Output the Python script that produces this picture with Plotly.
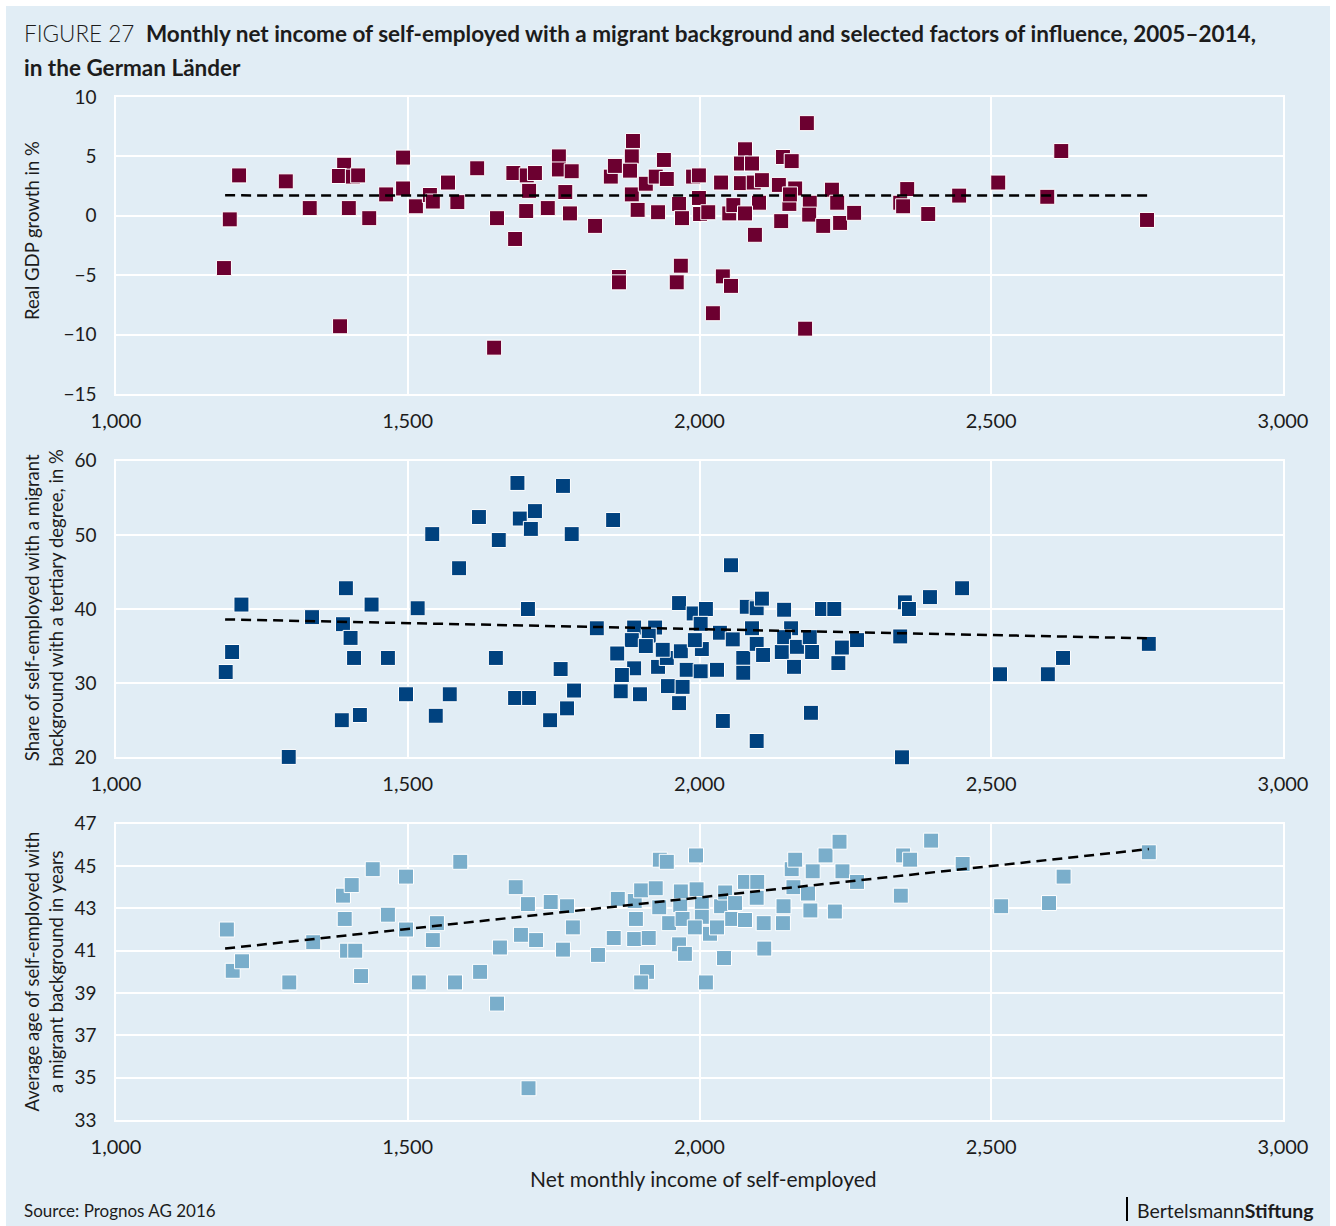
import plotly.graph_objects as go

# ---------------- data ----------------
gdp_x = [1185, 1195, 1211, 1291, 1332, 1391, 1382, 1406, 1415, 1399, 1384, 1434, 1463, 1492, 1492,
         1514, 1538, 1543, 1569, 1585, 1619, 1653, 1648, 1681, 1684, 1704, 1718, 1708, 1703, 1740,
         1759, 1759, 1781, 1770, 1778, 1821, 1848, 1855, 1862, 1862, 1886, 1884, 1881, 1884, 1894,
         1908, 1925, 1939, 1944, 1929, 1965, 1970, 1961, 1968, 1989, 1999, 1999, 2001, 2015, 2023,
         2037, 2040, 2054, 2051, 2058, 2071, 2078, 2071, 2093, 2102, 2078, 2095, 2107, 2143, 2158,
         2136, 2164, 2154, 2140, 2189, 2188, 2184, 2181, 2212, 2227, 2236, 2241, 2265, 2344, 2349,
         2356, 2392, 2445, 2512, 2620, 2596, 2767, 2090, 2155]
gdp_y = [-4.4, -0.3, 3.4, 2.9, 0.65, 4.3, 3.35, 3.3, 3.4, 0.65, -9.3, -0.2, 1.8, 4.9, 2.3,
         0.8, 1.75, 1.2, 2.8, 1.15, 4.0, -0.2, -11.1, 3.6, -1.95, 3.4, 3.6, 2.1, 0.4, 0.65,
         5.0, 3.9, 3.75, 2.0, 0.2, -0.85, 3.3, 4.2, -5.15, -5.6, 6.3, 5.0, 3.8, 1.8, 0.5,
         2.7, 3.3, 4.7, 3.1, 0.3, 1.0, -0.2, -5.6, -4.2, 3.3, 3.4, 1.5, 0.15, 0.3, -8.2,
         2.8, -5.1, -5.9, 0.2, 0.9, 2.75, 5.6, 4.4, 2.8, 1.1, 0.2, -1.6, 3.0, 4.95, 4.6,
         2.6, 2.3, 1.0, -0.45, 1.1, 0.1, 7.8, -9.5, -0.85, 2.2, 1.1, -0.6, 0.25, 1.1, 0.8,
         2.25, 0.15, 1.7, 2.8, 5.45, 1.6, -0.35, 4.4, 1.8]

edu_x = [1188, 1199, 1215, 1296, 1336, 1394, 1389, 1402, 1408, 1387, 1418, 1438, 1466, 1497, 1517,
         1542, 1548, 1572, 1588, 1622, 1656, 1688, 1692, 1718, 1711, 1766, 1781, 1852, 1706, 1651,
         1762, 1785, 1684, 1708, 1773, 1744, 1824, 1888, 1924, 1913, 1884, 1908, 1859, 1888, 1867,
         1865, 1898, 1929, 1944, 1937, 1946, 1971, 1965, 1965, 1968, 1978, 1990, 2011, 2002, 2004,
         2002, 2030, 1992, 2035, 2040, 2054, 2057, 2075, 2075, 2081, 2098, 2107, 2090, 2098, 2109,
         2098, 2145, 2141, 2157, 2145, 2162, 2167, 2189, 2193, 2191, 2210, 2231, 2244, 2238, 2270,
         2344, 2347, 2352, 2359, 2395, 2450, 2515, 2597, 2623, 2770]
edu_y = [31.5, 34.2, 40.6, 20.05, 38.9, 42.8, 37.95, 36.1, 33.4, 25.0, 25.7, 40.6, 33.4, 28.5, 40.1,
         50.1, 25.6, 28.5, 45.5, 52.4, 49.3, 57.0, 52.2, 53.2, 50.8, 56.6, 50.1, 52.0, 40.0, 33.4,
         31.9, 29.0, 28.0, 28.0, 26.6, 25.0, 37.4, 37.5, 37.5, 36.4, 35.8, 35.0, 34.0, 32.0, 31.1,
         28.9, 28.5, 32.2, 33.4, 34.5, 29.6, 29.5, 27.3, 40.8, 34.3, 31.8, 39.4, 40.0, 38.0, 34.6,
         31.6, 31.8, 35.8, 36.8, 24.9, 45.9, 35.9, 33.4, 31.4, 40.3, 40.1, 41.4, 37.4, 35.3, 33.8,
         22.2, 39.9, 34.2, 37.4, 36.2, 32.2, 34.9, 36.2, 34.2, 26.0, 40.0, 40.0, 34.8, 32.7, 35.8,
         36.3, 20.0, 40.9, 40.0, 41.6, 42.8, 31.2, 31.2, 33.4, 35.3]

age_x = [1190, 1200, 1216, 1297, 1338, 1389, 1404, 1392, 1396, 1410, 1420, 1440, 1466, 1497, 1497,
         1519, 1543, 1550, 1581, 1590, 1624, 1658, 1653, 1685, 1706, 1694, 1720, 1707, 1745, 1773,
         1783, 1766, 1826, 1853, 1860, 1889, 1891, 1888, 1900, 1910, 1900, 1913, 1925, 1931, 1932,
         1944, 1948, 1967, 1968, 1971, 1965, 1975, 1994, 1995, 2004, 2004, 1992, 2018, 2030, 2011,
         2037, 2044, 2042, 2061, 2056, 2078, 2078, 2099, 2098, 2110, 2111, 2143, 2144, 2158, 2164,
         2161, 2190, 2186, 2194, 2216, 2240, 2232, 2245, 2270, 2349, 2345, 2361, 2397, 2451, 2517,
         2599, 2624, 2770]
age_y = [42.0, 40.05, 40.5, 39.5, 41.4, 43.6, 44.1, 42.5, 41.0, 41.0, 39.8, 44.85, 42.7, 44.5, 42.0,
         39.5, 41.5, 42.3, 39.5, 45.2, 40.0, 41.15, 38.5, 44.0, 43.2, 41.75, 41.5, 34.5, 43.3, 43.1,
         42.1, 41.05, 40.8, 41.6, 43.45, 43.35, 42.5, 41.55, 43.85, 40.0, 39.5, 41.6, 43.95, 43.05, 45.3,
         45.2, 42.3, 43.15, 43.8, 42.5, 41.3, 40.85, 45.5, 43.9, 43.2, 42.6, 42.1, 41.8, 42.1, 39.5,
         43.1, 43.75, 40.65, 43.25, 42.5, 42.45, 44.25, 44.25, 43.5, 42.3, 41.1, 42.3, 43.1, 44.85, 45.3,
         44.0, 42.9, 43.7, 44.75, 45.5, 46.15, 42.85, 44.75, 44.25, 45.5, 43.6, 45.3, 46.2, 45.1, 43.1,
         43.25, 44.5, 45.65]

trend_x = [1187, 2770]
trend_gdp = [1.72, 1.70]
trend_edu = [38.6, 36.05]
trend_age = [41.1, 45.8]

x_ticks = [1000, 1500, 2000, 2500, 3000]
gdp_ticks = [-15, -10, -5, 0, 5, 10]
edu_ticks = [20, 30, 40, 50, 60]
age_ticks = [33, 35, 37, 39, 41, 43, 45, 47]

# ---------------- style ----------------
BG = "#e1edf5"
FONT = "Lato, 'Open Sans', sans-serif"
TXT = "#1c1c1c"
W, H = 1336, 1226
ML, MR, MT, MB = 116, 53, 97, 106
PW, PH = W - ML - MR, H - MT - MB


def px(xp):
    return (xp - ML) / PW


def py(yp):
    return (H - MB - yp) / PH


fig = go.Figure()

panels = [
    (gdp_x, gdp_y, trend_gdp, "#6c0030", "x", "y"),
    (edu_x, edu_y, trend_edu, "#00427f", "x2", "y2"),
    (age_x, age_y, trend_age, "#7aaecb", "x3", "y3"),
]
for xs, ys, tr, col, xa, ya in panels:
    fig.add_trace(go.Scatter(
        x=xs, y=ys, mode="markers", xaxis=xa, yaxis=ya, cliponaxis=False,
        marker=dict(symbol="square", size=15, color=col, line=dict(color="white", width=1)),
        showlegend=False, hoverinfo="skip"))
    fig.add_trace(go.Scatter(
        x=trend_x, y=tr, mode="lines", xaxis=xa, yaxis=ya,
        line=dict(color="black", width=2.5, dash="10px,6px"),
        showlegend=False, hoverinfo="skip"))

common_x = dict(range=[1000, 3000], tickvals=x_ticks, tickformat=",", showgrid=True,
                gridcolor="white", gridwidth=1.5, showline=True, linecolor="white",
                linewidth=1.5, mirror=True, zeroline=False, ticks="outside", ticklen=8,
                tickcolor="rgba(0,0,0,0)", tickfont=dict(size=20, color=TXT, family=FONT),
                domain=[0, 1], layer="below traces")
common_y = dict(showgrid=True, gridcolor="white", gridwidth=1.5, showline=True,
                linecolor="white", linewidth=1.5, mirror=True, zeroline=False,
                ticks="outside", ticklen=14, tickcolor="rgba(0,0,0,0)",
                tickfont=dict(size=19, color=TXT, family=FONT), layer="below traces")

fig.update_layout(
    width=W, height=H,
    margin=dict(l=ML, r=MR, t=MT, b=MB),
    paper_bgcolor="white", plot_bgcolor=BG,
    font=dict(family=FONT, color=TXT),
    xaxis=dict(**common_x, anchor="y"),
    xaxis2=dict(**common_x, anchor="y2"),
    xaxis3=dict(**common_x, anchor="y3"),
    yaxis=dict(**common_y, range=[-15, 10], tickvals=gdp_ticks, anchor="x",
               domain=[py(394), py(97)]),
    yaxis2=dict(**common_y, range=[20, 60], tickvals=edu_ticks, anchor="x2",
                domain=[py(757.3), py(460.7)]),
    yaxis3=dict(**common_y, range=[33, 47], tickvals=age_ticks, anchor="x3",
                domain=[py(1120), py(823.7)]),
)

# figure background panel (white margin strips around it)
fig.add_shape(type="rect", xref="paper", yref="paper", layer="below",
              x0=px(6), x1=px(1330), y0=py(1226), y1=py(6),
              fillcolor=BG, line=dict(width=0))
# logo bar
fig.add_shape(type="line", xref="paper", yref="paper",
              x0=px(1127), x1=px(1127), y0=py(1197), y1=py(1221),
              line=dict(color="black", width=2))

ann = []
ann.append(dict(x=px(22), y=py(33), xanchor="left", yanchor="middle",
                text="<span style='font-weight:300'>FIGURE 27</span>  <b>Monthly net income of self-employed with a migrant background and selected factors of influence, 2005–2014,</b>",
                font=dict(size=22.5, color=TXT, family=FONT)))
ann.append(dict(x=px(22), y=py(67), xanchor="left", yanchor="middle",
                text="<b>in the German Länder</b>",
                font=dict(size=22.5, color=TXT, family=FONT)))
ann.append(dict(x=px(32), y=py(231), xanchor="center", yanchor="middle", textangle=-90,
                text="Real GDP growth in %", font=dict(size=18.5, color=TXT, family=FONT)))
ann.append(dict(x=px(43.5), y=py(608), xanchor="center", yanchor="middle", textangle=-90,
                text="Share of self-employed with a migrant<br>background with a tertiary degree, in %",
                font=dict(size=18.5, color=TXT, family=FONT)))
ann.append(dict(x=px(43.5), y=py(972), xanchor="center", yanchor="middle", textangle=-90,
                text="Average age of self-employed with<br>a migrant background in years",
                font=dict(size=18.5, color=TXT, family=FONT)))
ann.append(dict(x=px(703), y=py(1178), xanchor="center", yanchor="middle",
                text="Net monthly income of self-employed",
                font=dict(size=21, color=TXT, family=FONT)))
ann.append(dict(x=px(22), y=py(1210), xanchor="left", yanchor="middle",
                text="Source: Prognos AG 2016", font=dict(size=17, color=TXT, family=FONT)))
ann.append(dict(x=px(1316), y=py(1210), xanchor="right", yanchor="middle",
                text="Bertelsmann<b>Stiftung</b>", font=dict(size=19.5, color=TXT, family=FONT)))
for a in ann:
    a.update(xref="paper", yref="paper", showarrow=False)
fig.update_layout(annotations=ann)

fig.write_html("out.html", config={"displayModeBar": False},
               post_script="document.body.style.margin='0';document.body.style.overflow='hidden';")
